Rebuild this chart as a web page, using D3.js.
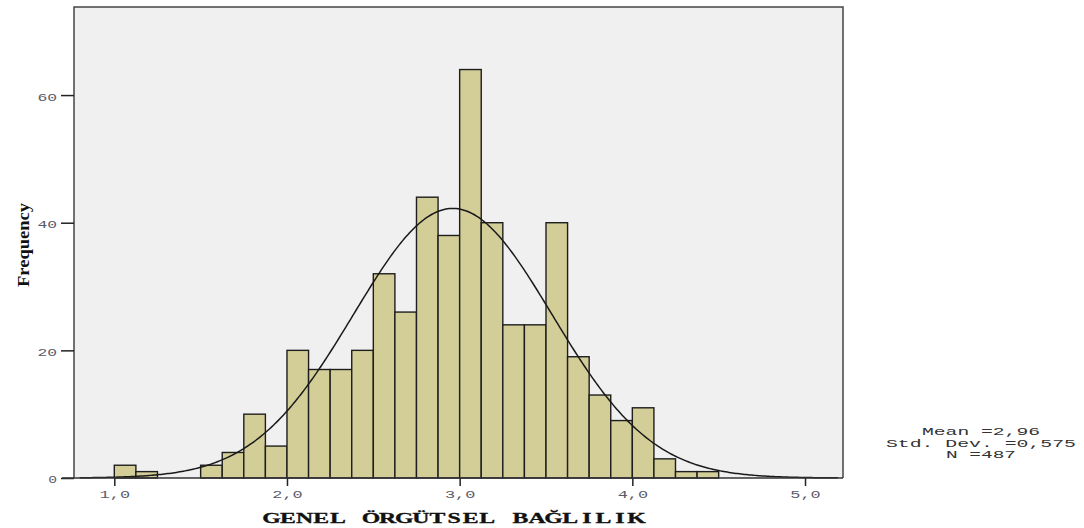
<!DOCTYPE html>
<html>
<head>
<meta charset="utf-8">
<script src="https://cdn.jsdelivr.net/npm/d3@7"></script>
<style>
  html, body { margin: 0; padding: 0; background: #fff; }
</style>
</head>
<body>
<div class="box"></div>
<script>
// data
const binStarts = [1.000, 1.125, 1.250, 1.375, 1.500, 1.625, 1.750, 1.875,
                   2.000, 2.125, 2.250, 2.375, 2.500, 2.625, 2.750, 2.875,
                   3.000, 3.125, 3.250, 3.375, 3.500, 3.625, 3.750, 3.875,
                   4.000, 4.125, 4.250, 4.375];
const counts = [2, 1, 0, 0, 2, 4, 10, 5,
                20, 17, 17, 20, 32, 26, 44, 38,
                64, 40, 24, 24, 40, 19, 13, 9,
                11, 3, 1, 1];
const binWidth = 0.125;
const xTicks = [1, 2, 3, 4, 5];
const xTickLabels = ['1,0', '2,0', '3,0', '4,0', '5,0'];
const yTicks = [0, 20, 40, 60];
const statLines = ['Mean =2,96', 'Std. Dev. =0,575', 'N =487'];
const stats = {mean: 2.96, sd: 0.575, n: 487};
const xTitle = 'GENEL ÖRGÜTSEL BAĞLILIK';
const yTitle = 'Frequency';

const dims = {width: 1084, height: 528, left: 74, right: 843, top: 7, bottom: 478};

const svg = d3.select('.box')
              .append('svg')
              .attr('width', dims.width)
              .attr('height', dims.height);

const x = d3.scaleLinear().domain([0.7666, 5.22]).range([dims.left, dims.right]);
const y = d3.scaleLinear().domain([0, 73.8]).range([dims.bottom, dims.top]);

// plot background
svg.append('rect')
   .attr('x', dims.left).attr('y', dims.top)
   .attr('width', dims.right - dims.left)
   .attr('height', dims.bottom - dims.top)
   .attr('fill', '#f0f0f0');

// bars
svg.append('g')
   .selectAll('rect')
   .data(binStarts.map((b, i) => ({b, c: counts[i]})).filter(d => d.c > 0))
   .enter()
   .append('rect')
   .attr('x', d => x(d.b))
   .attr('y', d => y(d.c))
   .attr('width', d => x(d.b + binWidth) - x(d.b))
   .attr('height', d => y(0) - y(d.c))
   .attr('fill', '#d3ce97')
   .attr('stroke', '#1e1e1e')
   .attr('stroke-width', 1.4);

// normal curve from the stats shown
const normal = v => stats.n * binWidth / (stats.sd * Math.sqrt(2 * Math.PI)) *
                    Math.exp(-0.5 * Math.pow((v - stats.mean) / stats.sd, 2));
const curvePts = d3.range(0.8, 5.2, 0.01);
svg.append('path')
   .attr('d', d3.line().x(v => x(v)).y(v => y(normal(v)))(curvePts))
   .attr('fill', 'none')
   .attr('stroke', '#1a1a1a')
   .attr('stroke-width', 1.5);

// frame
svg.append('path')
   .attr('d', `M${dims.left},${dims.bottom} V${dims.top} H${dims.right} V${dims.bottom}`)
   .attr('fill', 'none')
   .attr('stroke', '#444')
   .attr('stroke-width', 1.5);

// axes
const yAxis = svg.append('g')
   .attr('transform', `translate(${dims.left},0)`)
   .call(d3.axisLeft(y).tickValues(yTicks).tickSize(13).tickFormat(d => d));
const xAxis = svg.append('g')
   .attr('transform', `translate(0,${dims.bottom})`)
   .call(d3.axisBottom(x).tickValues(xTicks).tickSize(8).tickFormat((d, i) => xTickLabels[i]));

[xAxis, yAxis].forEach(ax => {
  ax.select('.domain').remove();
  ax.selectAll('line').attr('stroke', '#222').attr('stroke-width', 1.5);
  ax.selectAll('text')
    .attr('font-family', "'Liberation Mono', monospace")
    .attr('font-size', 11)
    .attr('fill', '#5a5a6a')
    .attr('lengthAdjust', 'spacingAndGlyphs')
    .attr('textLength', function() { return this.textContent.length * 10.8 - 2; });
});
yAxis.selectAll('text').attr('x', -17).attr('dy', '0.45em');
xAxis.selectAll('text').attr('y', 12).attr('dy', '0.71em');

// baseline across whole plot
svg.append('line')
   .attr('x1', dims.left - 12).attr('x2', dims.right)
   .attr('y1', dims.bottom).attr('y2', dims.bottom)
   .attr('stroke', '#333').attr('stroke-width', 1.5);

// x title: wide slab letters on a fixed pitch
const pitch = 16.6, stretch = 1.7;
const chars = Array.from(xTitle);
svg.append('text')
   .attr('transform', `translate(454,523) scale(${stretch},1)`)
   .attr('x', chars.map((c, i) => ((i - (chars.length - 1) / 2) * pitch / stretch).toFixed(2)).join(' '))
   .attr('text-anchor', 'middle')
   .style('font-family', "'Liberation Serif', serif")
   .style('font-weight', 'bold')
   .style('font-size', '14px')
   .attr('fill', '#111')
   .attr('stroke', '#111').attr('stroke-width', 0.3)
   .text(xTitle);

svg.append('text')
   .attr('transform', 'translate(29,245) rotate(-90)')
   .attr('text-anchor', 'middle')
   .style('font-family', "'Liberation Serif', serif")
   .style('font-weight', 'bold')
   .style('font-size', '16px')
   .attr('fill', '#111')
   .attr('lengthAdjust', 'spacingAndGlyphs')
   .attr('textLength', 84)
   .text(yTitle);

// stats box
svg.append('g')
   .selectAll('text')
   .data(statLines)
   .enter()
   .append('text')
   .attr('x', 981)
   .attr('y', (d, i) => 435 + i * 11.6)
   .attr('text-anchor', 'middle')
   .attr('font-family', "'Liberation Mono', monospace")
   .attr('font-size', 11.5)
   .attr('fill', '#333')
   .attr('lengthAdjust', 'spacingAndGlyphs')
   .attr('textLength', d => d.length * 12 - 2)
   .text(d => d);
</script>
</body>
</html>
